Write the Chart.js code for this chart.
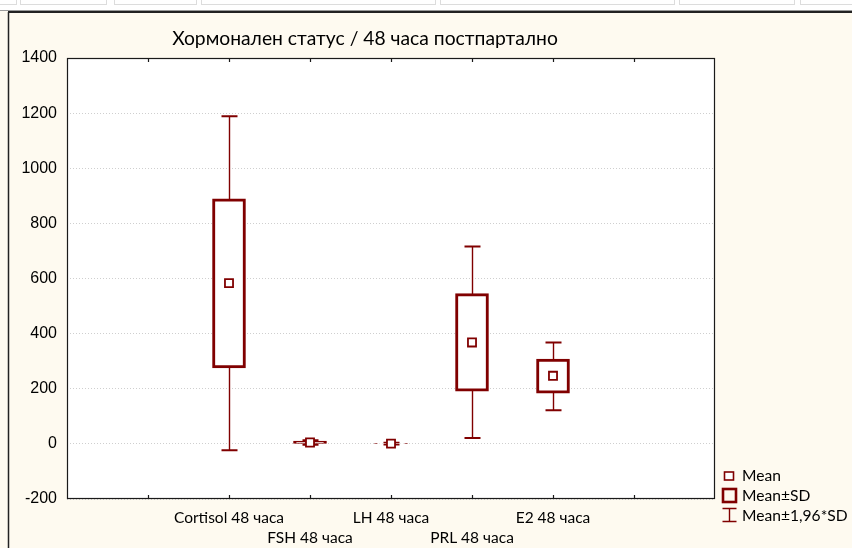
<!DOCTYPE html>
<html><head><meta charset="utf-8">
<script src="https://cdn.jsdelivr.net/npm/chart.js@4"></script>
<style>html,body{margin:0;padding:0;background:#fefaf0;overflow:hidden}</style>
</head><body>
<canvas id="c" width="852" height="548"></canvas>
<script>
// ---- data ----
const categories = ['Cortisol 48 часа', 'FSH 48 часа', 'LH 48 часа', 'PRL 48 часа', 'E2 48 часа'];
const means  = [583, 5, 1, 368, 247];
const sdLow  = [276, 0, 0.5, 191, 184];
const sdHigh = [889, 10, 1.5, 545, 308];
const ciLow  = [-23, -3, -2, 21, 122];
const ciHigh = [1189, 13, 4, 716, 368];
const yMin = -200, yMax = 1400, yStep = 200;
const legendLabels = ['Mean', 'Mean±SD', 'Mean±1,96*SD'];
const chartTitle = 'Хормонален статус / 48 часа постпартално';

// ---- styling ----
const RED = '#800000';
const CREAM = '#fefaf0';
const PAD = 2; // empty category slots on each side

const xLabels = [];
for (let i = 0; i < PAD; i++) xLabels.push('');
categories.forEach((c, i) => xLabels.push(i % 2 === 0 ? [c, ''] : ['', c]));
for (let i = 0; i < PAD; i++) xLabels.push('');
const pad = arr => [...Array(PAD).fill(null), ...arr, ...Array(PAD).fill(null)];

const bgPlugin = {
  id: 'bg',
  beforeDraw(chart) {
    const {ctx, chartArea: a, width, height} = chart;
    ctx.save();
    ctx.fillStyle = CREAM; ctx.fillRect(0, 0, width, height);
    // top strip
    ctx.fillStyle = '#ffffff'; ctx.fillRect(0, 0, width, 10);
    ctx.strokeStyle = '#dcdcdc'; ctx.lineWidth = 1;
    [[-2,16],[20,106],[114,196],[201,435],[440,674],[679,794],[800,860]].forEach(([x0,x1]) => {
      ctx.strokeRect(x0 + 0.5, -2, x1 - x0, 6.5);
    });
    ctx.strokeStyle = '#9a9a9a';
    ctx.beginPath(); ctx.moveTo(0, 10.5); ctx.lineTo(width, 10.5); ctx.stroke();
    ctx.strokeStyle = '#222'; ctx.lineWidth = 2;
    ctx.beginPath(); ctx.moveTo(8, 12); ctx.lineTo(width, 12); ctx.stroke();
    ctx.lineWidth = 1.5;
    ctx.beginPath(); ctx.moveTo(8.5, 12); ctx.lineTo(8.5, height); ctx.stroke();
    // plot area
    ctx.fillStyle = '#ffffff';
    ctx.fillRect(a.left, a.top, a.right - a.left, a.bottom - a.top);
    ctx.restore();
  },
  beforeDatasetsDraw(chart) {
    const {ctx, scales: {x, y}} = chart;
    ctx.save();
    ctx.strokeStyle = RED;
    categories.forEach((c, i) => {
      const px = Math.round(x.getPixelForValue(i + PAD)) + 0.5;
      const yl = y.getPixelForValue(ciLow[i]);
      const yh = y.getPixelForValue(ciHigh[i]);
      ctx.lineWidth = 1.4;
      ctx.beginPath(); ctx.moveTo(px, yl); ctx.lineTo(px, yh); ctx.stroke();
      ctx.lineWidth = 2;
      ctx.beginPath();
      ctx.moveTo(px - 8, yl); ctx.lineTo(px + 8, yl);
      ctx.moveTo(px - 8, yh); ctx.lineTo(px + 8, yh);
      ctx.stroke();
    });
    ctx.restore();
  },
  afterDraw(chart) {
    const {ctx, chartArea: a, scales: {x}} = chart;
    ctx.save();
    // plot frame
    ctx.strokeStyle = '#1a1a1a'; ctx.lineWidth = 1.2;
    ctx.strokeRect(a.left + 0.5, a.top + 0.5, a.right - a.left - 1, a.bottom - a.top - 1);
    // inner ticks on top and bottom
    ctx.lineWidth = 1.2;
    ctx.beginPath();
    for (let i = 1; i < xLabels.length - 1; i++) {
      const px = Math.round(x.getPixelForValue(i)) + 0.5;
      ctx.moveTo(px, a.top); ctx.lineTo(px, a.top + 4);
      ctx.moveTo(px, a.bottom); ctx.lineTo(px, a.bottom - 4);
    }
    ctx.stroke();
    // title
    ctx.fillStyle = '#000';
    ctx.font = '19.3px Lato';
    ctx.textAlign = 'center'; ctx.textBaseline = 'middle';
    ctx.fillText(chartTitle, 365, 39);
    // legend
    const lx = 729, ly = [476, 495.5, 515.5];
    ctx.strokeStyle = RED; ctx.fillStyle = '#fff';
    ctx.lineWidth = 1.6;
    ctx.fillRect(lx - 4.5, ly[0] - 4, 9, 8);
    ctx.strokeRect(lx - 4.5, ly[0] - 4, 9, 8);
    ctx.lineWidth = 2.6;
    ctx.strokeRect(lx - 6, ly[1] - 6.5, 13, 13);
    ctx.lineWidth = 1.4;
    ctx.beginPath();
    ctx.moveTo(lx + 0.5, ly[2] - 7); ctx.lineTo(lx + 0.5, ly[2] + 6);
    ctx.moveTo(lx - 6.5, ly[2] - 7); ctx.lineTo(lx + 7.5, ly[2] - 7);
    ctx.moveTo(lx - 6.5, ly[2] + 6); ctx.lineTo(lx + 7.5, ly[2] + 6);
    ctx.stroke();
    ctx.fillStyle = '#000';
    ctx.font = '15.6px Lato';
    ctx.textAlign = 'left';
    legendLabels.forEach((t, i) => ctx.fillText(t, 742, ly[i]));
    ctx.restore();
  }
};

new Chart(document.getElementById('c'), {
  data: {
    labels: xLabels,
    datasets: [
      {
        type: 'bar',
        data: pad(sdLow.map((v, i) => [v, sdHigh[i]])),
        backgroundColor: '#ffffff',
        borderColor: RED,
        borderWidth: 3,
        borderSkipped: false,
        barThickness: 33,
        order: 2
      },
      {
        type: 'line',
        data: pad(means),
        showLine: false,
        pointStyle: 'rect',
        pointRadius: 5.7,
        pointBorderWidth: 1.8,
        pointBackgroundColor: '#ffffff',
        pointBorderColor: RED,
        order: 1
      }
    ]
  },
  options: {
    responsive: false,
    animation: false,
    devicePixelRatio: 1,
    layout: {padding: {left: 0, top: 58, right: 137, bottom: 0}},
    plugins: {legend: {display: false}, tooltip: {enabled: false}, title: {display: false}},
    scales: {
      x: {
        type: 'category',
        offset: false,
        grid: {display: false, drawTicks: false, offset: false},
        border: {display: false},
        ticks: {
          autoSkip: false, maxRotation: 0, minRotation: 0, padding: 9,
          color: '#000', font: {family: 'Lato', size: 15.5, lineHeight: 1.3}
        },
        afterFit(s) { s.height = 49; }
      },
      y: {
        min: yMin, max: yMax,
        ticks: {stepSize: yStep, padding: 10, color: '#000', font: {family: 'Liberation Sans', size: 16},
          callback: v => String(v)},
        grid: {color: '#cfcfcf', lineWidth: 1, drawTicks: false},
        border: {display: false, dash: [1, 2]},
        afterFit(s) { s.width = 67; }
      }
    }
  },
  plugins: [bgPlugin]
});
</script>
</body></html>
